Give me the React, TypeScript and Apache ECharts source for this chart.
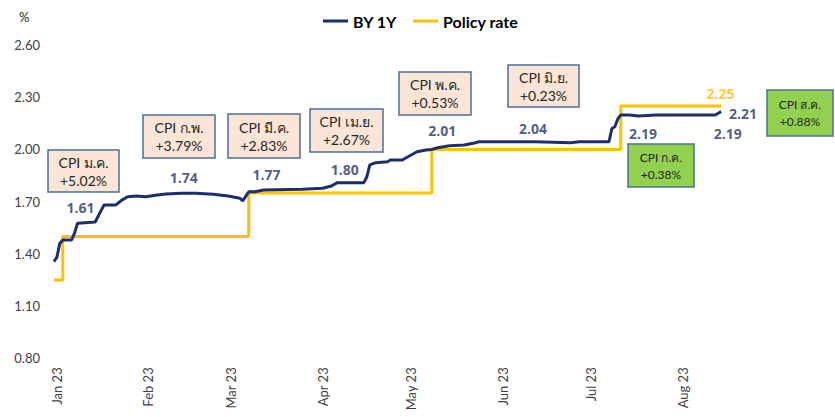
import React, { useEffect, useRef } from 'react';
import * as echarts from 'echarts';

// ---- data ----
const BY_DATES = [
  '2023-01-23', '2023-01-24', '2023-01-25', '2023-01-26', '2023-01-29', '2023-01-30', '2023-01-31',
  '2023-02-06', '2023-02-08', '2023-02-09', '2023-02-13', '2023-02-15', '2023-02-17', '2023-02-20',
  '2023-02-23', '2023-02-27', '2023-03-02', '2023-03-07', '2023-03-12', '2023-03-18', '2023-03-23',
  '2023-03-27', '2023-03-28', '2023-03-29', '2023-03-30', '2023-04-01', '2023-04-04', '2023-04-17',
  '2023-04-24', '2023-04-27', '2023-04-29', '2023-05-08', '2023-05-09', '2023-05-10', '2023-05-12',
  '2023-05-16', '2023-05-17', '2023-05-21', '2023-05-22', '2023-05-24', '2023-05-26', '2023-05-29',
  '2023-05-31', '2023-06-02', '2023-06-06', '2023-06-11', '2023-06-14', '2023-06-16', '2023-07-05',
  '2023-07-17', '2023-07-20', '2023-07-30', '2023-07-31', '2023-08-01', '2023-08-02', '2023-08-03',
  '2023-08-06', '2023-08-09', '2023-08-15', '2023-08-26', '2023-09-04', '2023-09-05', '2023-09-06',
];
const BY_VALUES = [
  1.355, 1.38, 1.46, 1.48, 1.48, 1.52, 1.576,
  1.583, 1.65, 1.681, 1.681, 1.709, 1.728, 1.732,
  1.728, 1.738, 1.744, 1.748, 1.748, 1.742, 1.732,
  1.719, 1.705, 1.732, 1.757, 1.757, 1.767, 1.771,
  1.777, 1.79, 1.809, 1.809, 1.843, 1.911, 1.924,
  1.929, 1.939, 1.939, 1.949, 1.968, 1.987, 1.997,
  2.0, 2.01, 2.021, 2.025, 2.035, 2.044, 2.044,
  2.039, 2.044, 2.044, 2.12, 2.13, 2.175, 2.198,
  2.198, 2.192, 2.198, 2.198, 2.198, 2.208, 2.217,
];

const POLICY_DATES = ['2023-01-23', '2023-01-26', '2023-03-30', '2023-05-31', '2023-08-03', '2023-09-06'];
const POLICY_VALUES = [1.25, 1.5, 1.75, 2.0, 2.25, 2.25];

const LABEL_TEXTS = ['1.61', '1.74', '1.77', '1.80', '2.01', '2.04', '2.19', '2.19', '2.21', '2.25'];
const LABEL_DATES = [
  '2023-02-01 00', '2023-03-08 00', '2023-04-05 00', '2023-05-01 12', '2023-06-03 12',
  '2023-07-04 06', '2023-08-10 12', '2023-09-08 06', '2023-09-13 10', '2023-09-05 18',
];
const LABEL_Y = [1.669, 1.839, 1.857, 1.882, 2.107, 2.119, 2.093, 2.093, 2.208, 2.322];
const LABEL_SERIES = ['BY', 'BY', 'BY', 'BY', 'BY', 'BY', 'BY', 'BY', 'BY', 'Policy'];

const X_TICK_DATES = [
  '2023-01-24 00', '2023-02-24 00', '2023-03-24 00', '2023-04-24 00',
  '2023-05-24 00', '2023-06-24 00', '2023-07-24 00', '2023-08-24 00',
];
const Y_TICKS = [0.8, 1.1, 1.4, 1.7, 2.0, 2.3, 2.6];

const CPI_MONTHS = ['ม.ค.', 'ก.พ.', 'มี.ค.', 'เม.ย.', 'พ.ค.', 'มิ.ย.', 'ก.ค.', 'ส.ค.'];
const CPI_CHANGES = ['+5.02%', '+3.79%', '+2.83%', '+2.67%', '+0.53%', '+0.23%', '+0.38%', '+0.88%'];

// ---- layout / styles ----
const BOX_LAYOUT = [
  [48, 150, 71, 42], [143, 115, 72, 43], [228, 114, 72, 44], [310, 109, 73, 43],
  [399, 72, 72, 43], [508, 65, 71, 42], [628, 144, 66, 43], [767, 90, 66, 46],
];
const BOX_GREEN = [false, false, false, false, false, false, true, true];

const NAVY = '#1B2F6C';
const NAVY_TEXT = '#1F3468';
const GOLD = '#FFC000';
const FONT = "Lato, 'Noto Sans', 'DejaVu Sans', sans-serif";
const BOLD_FONT = "'Open Sans', 'Noto Sans', sans-serif";
const MONTHS = ['Jan', 'Feb', 'Mar', 'Apr', 'May', 'Jun', 'Jul', 'Aug', 'Sep', 'Oct', 'Nov', 'Dec'];

function ts(s: string): number {
  const [datePart, hourPart] = s.split(' ');
  const [y, m, d] = datePart.split('-').map(Number);
  return new Date(y, m - 1, d, hourPart ? Number(hourPart) : 0).getTime();
}

export default function App() {
  const ref = useRef<HTMLDivElement>(null);

  useEffect(() => {
    if (!ref.current) return;
    const chart = echarts.init(ref.current, undefined, { renderer: 'svg' });

    const byData = BY_DATES.map((d, i) => [ts(d), BY_VALUES[i]]);
    const policyData = POLICY_DATES.map((d, i) => [ts(d), POLICY_VALUES[i]]);
    const labelData = LABEL_TEXTS.map((t, i) => ({
      value: [ts(LABEL_DATES[i]), LABEL_Y[i], t],
      label: { color: LABEL_SERIES[i] === 'Policy' ? GOLD : NAVY_TEXT },
    }));

    const graphics: any[] = [
      {
        type: 'text',
        left: 19,
        top: 10,
        style: { text: '%', fontSize: 13, fill: '#262626', fontFamily: FONT },
      },
    ];
    BOX_LAYOUT.forEach(([x, y, w, h], i) => {
      const green = BOX_GREEN[i];
      graphics.push({
        type: 'rect',
        shape: { x, y, width: w, height: h },
        style: { fill: green ? '#92D050' : '#FBE5D6', stroke: '#4E6F9A', lineWidth: 1.5 },
        z: 10,
      });
      graphics.push({
        type: 'text',
        x: x + w / 2,
        y: y + h / 2,
        style: {
          text: `CPI ${CPI_MONTHS[i]}\n${CPI_CHANGES[i]}`,
          align: 'center',
          verticalAlign: 'middle',
          fontSize: green ? 12 : 14,
          lineHeight: green ? 17 : 18,
          fill: '#262626',
          fontFamily: FONT,
        },
        z: 11,
      });
    });

    chart.setOption({
      animation: false,
      backgroundColor: '#ffffff',
      textStyle: { fontFamily: FONT },
      legend: {
        data: ['BY 1Y', 'Policy rate'],
        left: 318,
        top: 8,
        icon: 'rect',
        itemWidth: 25,
        itemHeight: 3,
        itemGap: 16,
        textStyle: { fontSize: 16, fontWeight: 'bold', color: '#000', fontFamily: FONT },
      },
      grid: { left: 48, top: 45, width: 744, height: 313.3 },
      xAxis: {
        type: 'value',
        min: ts('2023-01-21'),
        max: ts('2023-09-30'),
        axisLine: { show: false },
        axisTick: { show: false },
        splitLine: { show: false },
        axisLabel: {
          customValues: X_TICK_DATES.map(ts),
          rotate: 90,
          margin: 9,
          fontSize: 13,
          color: '#404040',
          fontFamily: FONT,
          formatter: (v: number) => {
            const d = new Date(v);
            return `${MONTHS[d.getMonth()]} ${String(d.getFullYear()).slice(2)}`;
          },
        },
      },
      yAxis: {
        type: 'value',
        min: 0.8,
        max: 2.6,
        axisLine: { show: false },
        axisTick: { show: false },
        splitLine: { show: false },
        axisLabel: {
          customValues: Y_TICKS,
          margin: 8,
          fontSize: 13,
          color: '#404040',
          fontFamily: FONT,
          formatter: (v: number) => v.toFixed(2),
        },
      },
      series: [
        {
          name: 'BY 1Y',
          type: 'line',
          data: byData,
          showSymbol: false,
          symbol: 'none',
          lineStyle: { color: NAVY, width: 3 },
          itemStyle: { color: NAVY },
          z: 3,
        },
        {
          name: 'Policy rate',
          type: 'line',
          step: 'end',
          data: policyData,
          showSymbol: false,
          symbol: 'none',
          lineStyle: { color: GOLD, width: 3 },
          itemStyle: { color: GOLD },
          z: 2,
        },
        {
          name: 'labels',
          type: 'scatter',
          data: labelData,
          symbolSize: 0,
          silent: true,
          label: {
            show: true,
            position: 'inside',
            formatter: (p: any) => p.value[2],
            fontSize: 14,
            fontWeight: 'bold',
            fontFamily: BOLD_FONT,
          },
          z: 5,
        },
      ],
      graphic: graphics,
    });

    return () => chart.dispose();
  }, []);

  return (
    <div
      ref={ref}
      style={{ position: 'absolute', left: 0, top: 0, width: 835, height: 417 }}
    />
  );
}
